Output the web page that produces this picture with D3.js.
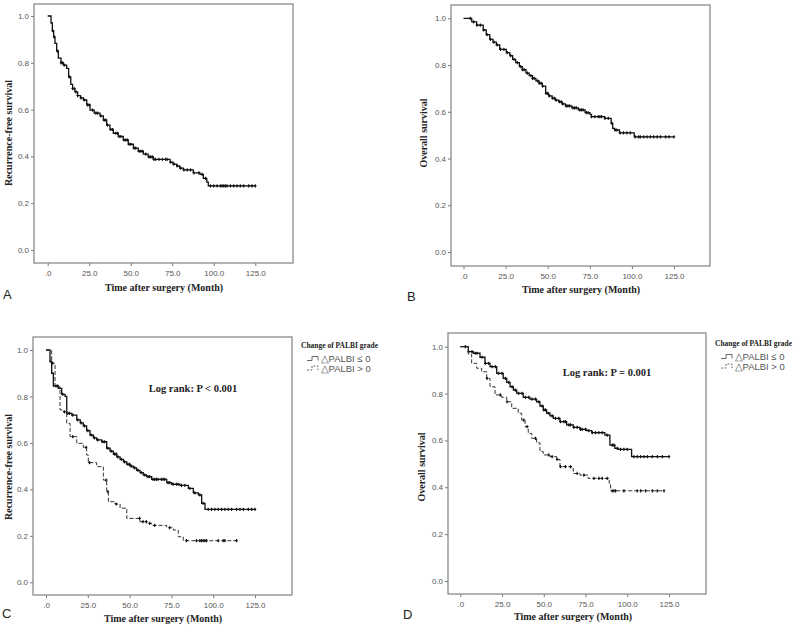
<!DOCTYPE html>
<html><head><meta charset="utf-8">
<script src="https://cdn.jsdelivr.net/npm/d3@7"></script>
<style>body{margin:0;background:#fff}svg{display:block}</style>
</head><body>
<svg id="c" width="800" height="626"></svg>
<script>
// ---------- data ----------
const xTicks = [0, 25, 50, 75, 100, 125];
const xTickLabels = [".0", "25.0", "50.0", "75.0", "100.0", "125.0"];
const yTicks = [0, 0.2, 0.4, 0.6, 0.8, 1.0];
const yTickLabels = ["0.0", "0.2", "0.4", "0.6", "0.8", "1.0"];
const xTitle = "Time after surgery (Month)";
const legendTitle = "Change of PALBI grade";
const legendLabels = ["\u25B3PALBI \u2264 0", "\u25B3PALBI  > 0"];

// Panel A: recurrence-free survival (all)
const aTime = [0, 2, 2.8, 3.6, 4.4, 5.4, 6.4, 8, 9.4, 11.4, 12.6, 13.9, 15, 16.4, 18, 19.8, 21.5, 23.5, 25.5, 28, 31.5, 33.5, 35.5, 37.5, 39.5, 42.5, 45.5, 48.5, 51.6, 54.5, 57.6, 60.5, 63.6, 73.7, 75.5, 77.7, 79.5, 81.7, 87.7, 91.7, 93.7, 95.8, 96.7, 125];
const aSurv = [1, 0.97, 0.937, 0.91, 0.883, 0.85, 0.82, 0.80, 0.79, 0.776, 0.74, 0.708, 0.69, 0.676, 0.66, 0.65, 0.641, 0.62, 0.598, 0.585, 0.573, 0.555, 0.534, 0.515, 0.499, 0.485, 0.47, 0.452, 0.435, 0.422, 0.41, 0.398, 0.387, 0.375, 0.367, 0.359, 0.35, 0.342, 0.33, 0.323, 0.306, 0.29, 0.274, 0.274];
const aCensor = [3,4,6,8,9,10,13,15,16,17,18,20,22,24,25,27,29,30,32,34,35,36,38,39,41,42,43,44,46,47,48,49,50,52,53,55,56,57,59,61,62,63,64,65,67,69,71,72,74,76,78,80,82,84,86,88,91,93,95,98,100,102,104,105,106,107,108,110,112,114,116,118,121,123,125];

// Panel B: overall survival (all)
const bTime = [0, 3.5, 4.9, 7.8, 11.7, 13.5, 15.6, 17.5, 19.5, 21.5, 25.4, 27.5, 29.2, 31, 33.2, 35, 37.1, 39, 41, 43, 44.9, 46.8, 48.8, 50.5, 52.6, 54.5, 56.5, 58.5, 60.5, 64.3, 68.2, 72.2, 75.1, 76, 83.8, 87.7, 88.6, 89.7, 92.6, 101.4, 125];
const bSurv = [1, 1, 0.985, 0.971, 0.95, 0.93, 0.91, 0.898, 0.886, 0.867, 0.853, 0.84, 0.824, 0.81, 0.793, 0.78, 0.765, 0.755, 0.743, 0.732, 0.722, 0.71, 0.679, 0.668, 0.658, 0.65, 0.643, 0.634, 0.625, 0.617, 0.608, 0.596, 0.589, 0.579, 0.572, 0.551, 0.529, 0.522, 0.51, 0.493, 0.493];
const bCensor = [4,6,8,10,12,14,16,18,20,22,24,26,28,30,32,34,35,36,38,40,41,42,44,45,46,47,49,50,51,53,54,55,57,58,59,61,62,63,65,66,67,69,70,71,73,74,76,78,80,81,82,84,86,88,90,91,93,95,97,99,102,104,105,107,109,111,113,115,117,120,122,125];

// Panel C: recurrence-free survival by group
const cLowTime = [0, 1, 2.4, 3.4, 4.4, 7.4, 9.4, 11.4, 12.4, 15.4, 18.4, 20.5, 22.3, 24.3, 26.3, 28.3, 30.3, 33.3, 36.3, 38.3, 40.3, 42.3, 44.3, 46.3, 48.3, 50.3, 52.2, 54.2, 56.2, 58.2, 60.2, 63.2, 72.2, 75.2, 80.1, 85.1, 88.1, 91.1, 93.1, 95.1, 125];
const cLowSurv = [1, 1, 0.95, 0.9, 0.845, 0.835, 0.809, 0.8, 0.727, 0.72, 0.699, 0.686, 0.673, 0.653, 0.634, 0.622, 0.613, 0.605, 0.577, 0.565, 0.552, 0.54, 0.529, 0.518, 0.508, 0.5, 0.493, 0.482, 0.472, 0.462, 0.455, 0.443, 0.429, 0.422, 0.417, 0.404, 0.385, 0.376, 0.34, 0.314, 0.314];
const cLowCensor = [3,6,7,10,13,14,16,19,21,23,25,27,29,31,34,35,37,39,41,42,43,45,47,49,50,51,53,55,57,59,61,62,64,65,66,67,69,70,71,73,74,76,78,79,81,83,86,89,92,94,97,99,101,103,105,107,109,111,114,116,118,121,123,125];
const cHighTime = [0, 1.5, 3.4, 5.4, 8.4, 10.3, 12.4, 14.4, 18.4, 22.3, 24.3, 25.3, 30.3, 34.3, 36.3, 37.3, 41.3, 44.3, 48.3, 56.2, 60.2, 63.2, 72.2, 76.2, 79.1, 82.1, 114.4];
const cHighSurv = [1, 1, 0.943, 0.842, 0.742, 0.734, 0.684, 0.627, 0.598, 0.581, 0.548, 0.515, 0.498, 0.44, 0.39, 0.347, 0.337, 0.319, 0.275, 0.261, 0.254, 0.245, 0.235, 0.225, 0.196, 0.179, 0.179];
const cHighCensor = [4,11,16,24,26,36,37,42,56,58,60,62,65,74,84,90,92,93,94,95,96,103,106,107,114];

// Panel D: overall survival by group
const dLowTime = [0, 2.8, 4.8, 7.8, 11.8, 14.8, 17.8, 21.8, 25.7, 27.8, 29.8, 31.8, 33.8, 37.7, 41.7, 45.7, 47.7, 49.7, 51.7, 53.7, 55.7, 59.7, 63.7, 67.7, 71.7, 75.7, 78.7, 86.6, 89.6, 92.6, 94.6, 102.6, 125];
const dLowSurv = [1, 1, 0.979, 0.972, 0.955, 0.929, 0.915, 0.886, 0.865, 0.848, 0.829, 0.815, 0.801, 0.784, 0.776, 0.765, 0.747, 0.73, 0.716, 0.705, 0.694, 0.68, 0.666, 0.656, 0.647, 0.642, 0.633, 0.623, 0.58, 0.566, 0.562, 0.531, 0.531];
const dLowCensor = [3,5,7,9,10,13,15,17,19,21,23,25,27,29,31,33,35,37,39,41,43,45,47,49,50,51,53,55,57,59,60,62,63,65,66,68,70,72,73,75,77,79,81,83,85,88,91,92,94,96,98,100,104,106,108,110,112,115,118,121,125];
const dHighTime = [0, 2.8, 4.8, 6.8, 9.8, 12.8, 15.8, 17.8, 20.8, 24.8, 27.8, 30.8, 34.7, 36.8, 38.8, 40.7, 42.8, 45.7, 47.7, 49.7, 53.7, 57.7, 59.7, 66.7, 67.7, 71.7, 76.6, 89.2, 90, 122.4];
const dHighSurv = [1, 1, 0.968, 0.929, 0.908, 0.893, 0.865, 0.829, 0.794, 0.784, 0.765, 0.737, 0.716, 0.687, 0.659, 0.63, 0.609, 0.59, 0.552, 0.538, 0.531, 0.519, 0.488, 0.481, 0.459, 0.452, 0.438, 0.414, 0.385, 0.385];
const dHighCensor = [16,24,28,38,40,45,53,55,58,60,63,66,70,74,80,83,85,88,91,92,93,98,106,108,111,115,118,122];

// ---------- drawing ----------
const svg = d3.select("#c");
const serif = "'Liberation Serif','Times New Roman',serif";
const sans = "'Liberation Sans',Arial,sans-serif";

function survAt(times, surv, t) {
  let s = surv[0];
  for (let i = 0; i < times.length; i++) { if (times[i] <= t) s = surv[i]; }
  return s;
}

function panel(cfg) {
  const g = svg.append("g");
  const x = d3.scaleLinear().domain([0, 125]).range([cfg.x0, cfg.x125]);
  const y = d3.scaleLinear().domain([0, 1]).range([cfg.y0, cfg.y1]);

  const ax = g.append("g").attr("transform", `translate(0,${cfg.fb})`)
    .call(d3.axisBottom(x).tickValues(xTicks).tickSize(3).tickPadding(4)
      .tickFormat((d, i) => xTickLabels[i]));
  const ay = g.append("g").attr("transform", `translate(${cfg.fl},0)`)
    .call(d3.axisLeft(y).tickValues(yTicks).tickSize(3).tickPadding(2)
      .tickFormat((d, i) => yTickLabels[i]));
  [ax, ay].forEach(a => {
    a.select(".domain").remove();
    a.selectAll("line").attr("stroke", "#777");
    a.selectAll("text").attr("fill", "#555").style("font-family", sans).style("font-size", "8px");
  });

  g.append("rect").attr("x", cfg.fl).attr("y", cfg.ft)
    .attr("width", cfg.fr - cfg.fl).attr("height", cfg.fb - cfg.ft)
    .attr("fill", "none").attr("stroke", "#8a8a8a").attr("stroke-width", 1.3);

  const line = d3.line().x(d => x(d[0])).y(d => y(d[1])).curve(d3.curveStepAfter);
  cfg.series.forEach(s => {
    const pts = s.time.map((t, i) => [t, s.surv[i]]);
    g.append("path").attr("d", line(pts)).attr("fill", "none")
      .attr("stroke", s.dash ? "#333" : "#111").attr("stroke-width", s.dash ? 1 : 1.3)
      .attr("stroke-dasharray", s.dash ? "4,2" : null);
    const marks = s.censor.map(t => [t, survAt(s.time, s.surv, t)]);
    g.append("g").selectAll("path").data(marks).join("path")
      .attr("d", d => `M${x(d[0]) - 1.2},${y(d[1])}h2.4M${x(d[0])},${y(d[1]) - 1.6}v3.2`)
      .attr("stroke", "#111").attr("stroke-width", 1.1);
  });

  g.append("text").attr("x", cfg.xtx).attr("y", cfg.xty).attr("text-anchor", "middle")
    .style("font-family", serif).style("font-weight", "bold").style("font-size", "10px")
    .attr("fill", "#222").text(xTitle);
  g.append("text").attr("transform", `translate(${cfg.ytx},${cfg.yty}) rotate(-90)`)
    .attr("text-anchor", "middle").style("font-family", serif).style("font-weight", "bold")
    .style("font-size", "10px").attr("fill", "#222").text(cfg.yTitle);
  g.append("text").attr("x", cfg.lx).attr("y", cfg.ly)
    .style("font-family", sans).style("font-size", "13px").attr("fill", "#222").text(cfg.letter);

  if (cfg.logrank) {
    g.append("text").attr("x", cfg.lrx).attr("y", cfg.lry).attr("text-anchor", "middle")
      .style("font-family", serif).style("font-weight", "bold").style("font-size", "10.5px")
      .attr("fill", "#222").text(cfg.logrank);
  }
  if (cfg.legX !== undefined) {
    const lg = g.append("g").attr("transform", `translate(${cfg.legX},${cfg.legY})`);
    lg.append("text").attr("x", 0).attr("y", 0).style("font-family", serif)
      .style("font-weight", "bold").style("font-size", "8px").attr("fill", "#222")
      .attr("textLength", 77).attr("lengthAdjust", "spacingAndGlyphs").text(legendTitle);
    legendLabels.forEach((lab, i) => {
      const yy = 14 + i * 9.5;
      lg.append("path").attr("d", `M6,${yy - 1.5}h5v-4h6v4`)
        .attr("fill", "none").attr("stroke", "#444").attr("stroke-width", 0.8)
        .attr("stroke-dasharray", i === 1 ? "2,1.5" : null);
      lg.append("text").attr("x", 19.5).attr("y", yy).style("font-family", sans)
        .style("font-size", "9.5px").attr("fill", "#555").text(lab);
    });
  }
}

panel({ fl: 34, fr: 293, ft: 4, fb: 263, x0: 47.7, x125: 255.3, y0: 250, y1: 16,
  xtx: 164, xty: 291, ytx: 12, yty: 133, lx: 3, ly: 299, letter: "A",
  yTitle: "Recurrence-free survival",
  series: [{ time: aTime, surv: aSurv, censor: aCensor, dash: false }] });

panel({ fl: 451, fr: 710, ft: 5, fb: 266, x0: 463.5, x125: 674, y0: 252, y1: 18.3,
  xtx: 581, xty: 293, ytx: 427, yty: 133, lx: 407, ly: 301, letter: "B",
  yTitle: "Overall survival",
  series: [{ time: bTime, surv: bSurv, censor: bCensor, dash: false }] });

panel({ fl: 33, fr: 292, ft: 337, fb: 595, x0: 46, x125: 255, y0: 582.3, y1: 350,
  xtx: 163, xty: 622, ytx: 12, yty: 467, lx: 2, ly: 618, letter: "C",
  yTitle: "Recurrence-free survival", logrank: "Log rank: P < 0.001", lrx: 193, lry: 392,
  legX: 301, legY: 348,
  series: [{ time: cLowTime, surv: cLowSurv, censor: cLowCensor, dash: false },
           { time: cHighTime, surv: cHighSurv, censor: cHighCensor, dash: true }] });

panel({ fl: 448, fr: 706, ft: 333, fb: 594, x0: 460.3, x125: 669, y0: 581, y1: 346.7,
  xtx: 573, xty: 620, ytx: 425, yty: 467, lx: 403, ly: 619, letter: "D",
  yTitle: "Overall survival", logrank: "Log rank: P = 0.001", lrx: 607, lry: 376,
  legX: 715, legY: 346,
  series: [{ time: dLowTime, surv: dLowSurv, censor: dLowCensor, dash: false },
           { time: dHighTime, surv: dHighSurv, censor: dHighCensor, dash: true }] });
</script>
</body></html>
